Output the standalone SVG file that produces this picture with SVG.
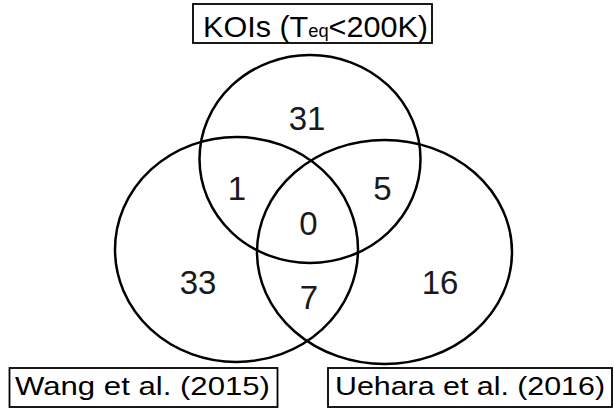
<svg xmlns="http://www.w3.org/2000/svg" width="614" height="410" viewBox="0 0 614 410">
<style>
.set{fill:none;stroke:#000;stroke-width:2.5}
.box{fill:#fff;stroke:#000;stroke-width:1.8}
.lbl{font-family:"Liberation Sans",Arial,sans-serif;fill:#000}
.num{font-family:"Liberation Sans",Arial,sans-serif;font-size:33px;fill:#1a1a1a;text-anchor:middle}
</style>
<rect width="614" height="410" fill="#fff"/>
<g id="sets">
<ellipse id="set-koi" class="set" cx="310" cy="159" rx="110.5" ry="104"/>
<ellipse id="set-wang" class="set" cx="236.5" cy="249.5" rx="121.5" ry="112.5"/>
<ellipse id="set-uehara" class="set" cx="384.5" cy="252" rx="127.5" ry="112"/>
</g>
<g id="regions">
<text class="num" x="307" y="130">31</text>
<text class="num" x="237" y="200">1</text>
<text class="num" x="382.5" y="200">5</text>
<text class="num" x="308.5" y="235">0</text>
<text class="num" x="198" y="294">33</text>
<text class="num" x="309" y="309">7</text>
<text class="num" x="440" y="294">16</text>
</g>
<g id="label-koi">
<rect class="box" x="193" y="4" width="239" height="39"/>
<text class="lbl" x="203" y="37" font-size="30" textLength="225" lengthAdjust="spacingAndGlyphs">KOIs (T<tspan font-size="18">eq</tspan>&lt;200K)</text>
</g>
<g id="label-wang">
<rect class="box" x="9.5" y="368" width="268" height="39"/>
<text class="lbl" x="15" y="395" font-size="26" textLength="255" lengthAdjust="spacingAndGlyphs">Wang et al. (2015)</text>
</g>
<g id="label-uehara">
<rect class="box" x="328" y="368" width="284" height="39"/>
<text class="lbl" x="335" y="395" font-size="26" textLength="270" lengthAdjust="spacingAndGlyphs">Uehara et al. (2016)</text>
</g>
</svg>
